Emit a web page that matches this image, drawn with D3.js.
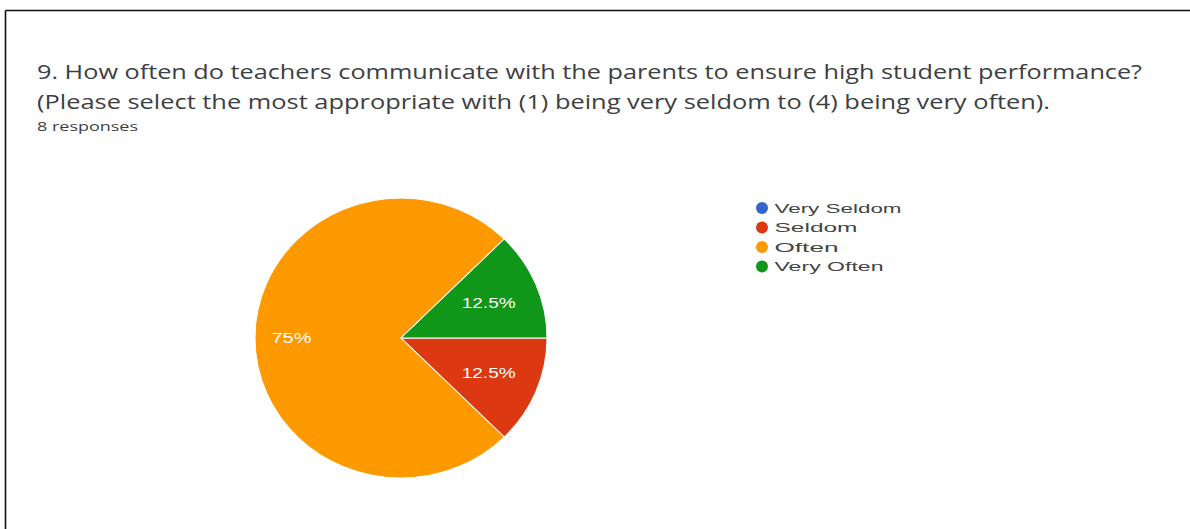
<!DOCTYPE html>
<html>
<head>
<meta charset="utf-8">
<script src="https://cdn.jsdelivr.net/npm/d3@7"></script>
<style>
  html, body { margin: 0; padding: 0; background: #fff; }
  svg { display: block; }
</style>
</head>
<body>
<svg id="chart" width="1190" height="529"></svg>
<script>
const titleLines = [
  "9. How often do teachers communicate with the parents to ensure high student performance?",
  "(Please select the most appropriate with (1) being very seldom to (4) being very often)."
];
const subtitle = "8 responses";
const categories = ["Very Seldom", "Seldom", "Often", "Very Often"];
const counts = [0, 1, 6, 1];
const colors = ["#3366cc", "#dc3912", "#ff9900", "#109618"];

const svg = d3.select("#chart");
const W = 1190, H = 529;

// frame (top & left edges visible)
svg.append("line").attr("x1", 5.5).attr("x2", W).attr("y1", 10.5).attr("y2", 10.5)
  .attr("stroke", "#111").attr("stroke-width", 1.6);
svg.append("line").attr("x1", 5.5).attr("x2", 5.5).attr("y1", 10.5).attr("y2", H)
  .attr("stroke", "#111").attr("stroke-width", 1.6);

const font = "'Open Sans', Roboto, Arial, sans-serif";
const titleWidths = [1105, 1013];
titleLines.forEach((t, i) => {
  svg.append("text")
    .attr("x", 37).attr("y", 79 + i * 30)
    .attr("font-family", font).attr("font-size", 19.5)
    .attr("fill", "#3c4043")
    .attr("textLength", titleWidths[i]).attr("lengthAdjust", "spacingAndGlyphs")
    .text(t);
});
svg.append("text")
  .attr("x", 37).attr("y", 131)
  .attr("font-family", font).attr("font-size", 12.5)
  .attr("fill", "#3c4043")
  .attr("textLength", 101).attr("lengthAdjust", "spacingAndGlyphs")
  .text(subtitle);

// pie
const cx = 401, cy = 338, r = 140, sx = 1.043;
const data = categories.map((c, i) => ({ cat: c, value: counts[i], color: colors[i] }));
const total = d3.sum(counts);
const pie = d3.pie().value(d => d.value).sort(null)
  .startAngle(Math.PI / 2).endAngle(Math.PI / 2 + 2 * Math.PI);
const arcs = pie(data);
const arc = d3.arc().innerRadius(0).outerRadius(r);

const g = svg.append("g").attr("transform", `translate(${cx},${cy}) scale(${sx},1)`);
g.selectAll("path").data(arcs.filter(d => d.data.value > 0)).join("path")
  .attr("d", arc)
  .attr("fill", d => d.data.color)
  .attr("stroke", "#fff").attr("stroke-width", 1);

const lg = svg.append("g").attr("transform", `translate(${cx},${cy})`);
lg.selectAll("text").data(arcs.filter(d => d.data.value > 0)).join("text")
  .attr("transform", d => {
    const k = d.data.value / total > 0.5 ? 0.75 : 0.65;
    const [x, y] = d3.arc().innerRadius(r * k).outerRadius(r * k).centroid(d);
    return `translate(${x * sx},${y})`;
  })
  .attr("text-anchor", "middle").attr("dominant-baseline", "central")
  .attr("font-family", "Arial, 'Liberation Sans', sans-serif").attr("font-size", 14.5)
  .attr("fill", "#fff")
  .attr("textLength", d => d.data.value / total > 0.5 ? 40 : 54)
  .attr("lengthAdjust", "spacingAndGlyphs")
  .text(d => d3.format(".3~")(d.data.value / total * 100) + "%");

// legend
const legendWidths = [127, 83, 64, 109];
const legend = svg.append("g").attr("transform", "translate(762,208)");
const item = legend.selectAll("g").data(data).join("g")
  .attr("transform", (d, i) => `translate(0,${i * 19.5})`);
item.append("circle").attr("r", 6).attr("fill", d => d.color);
item.append("text").attr("x", 12.5).attr("dominant-baseline", "central")
  .attr("font-family", "Arial, 'Liberation Sans', sans-serif").attr("font-size", 13)
  .attr("fill", "#444")
  .attr("textLength", (d, i) => legendWidths[i]).attr("lengthAdjust", "spacingAndGlyphs")
  .text(d => d.cat);
</script>
</body>
</html>
